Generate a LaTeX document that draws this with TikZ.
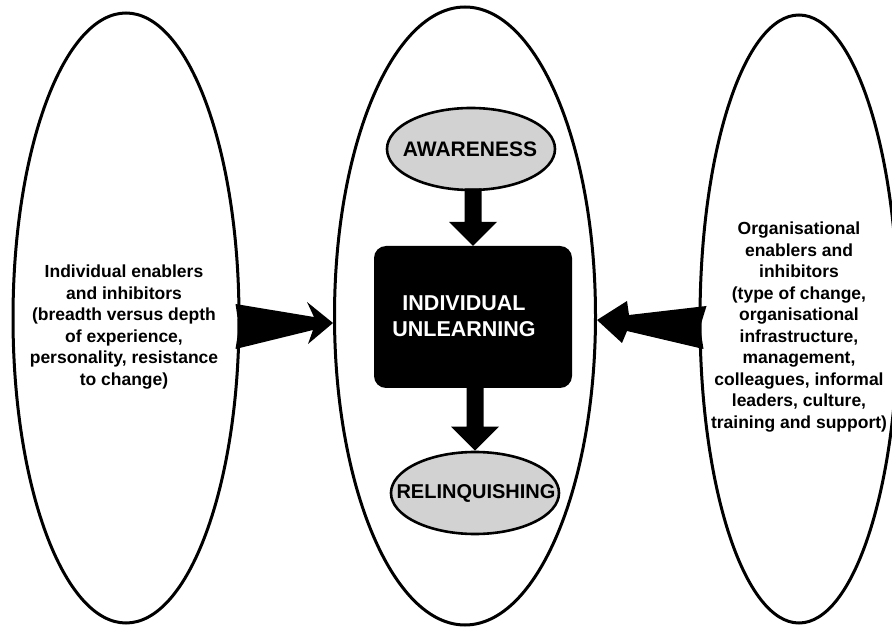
\documentclass[tikz,border=0pt]{standalone}
\usepackage{fontspec}
\setmainfont{Liberation Sans}
\usetikzlibrary{shapes.geometric,calc}
\definecolor{stagegray}{RGB}{210,210,210}
% solid downward block arrow from the bottom of one node to the top of another
\newcommand\blockdown[2]{%
  \coordinate (bdt) at (#2 |- #1);
  \fill ($(bdt)+(-8.5,-3)$) -- ($(#2)+(-8.5,-24)$) -- ($(#2)+(-24,-24)$) -- (#2)
     -- ($(#2)+(24,-24)$) -- ($(#2)+(8.5,-24)$) -- ($(bdt)+(8.5,-3)$) -- cycle;}
\begin{document}
\begin{tikzpicture}[x=1pt,y=-1pt,
  oval/.style={ellipse,draw=black,line width=3pt,inner sep=0pt},
  stage/.style={ellipse,draw=black,line width=2.6pt,fill=stagegray,inner sep=0pt,
    minimum width=168pt,minimum height=82pt},
  stagetext/.style={font=\fontsize{21}{24}\selectfont\bfseries},
  sidetext/.style={align=center,font=\fontsize{17.5}{21.5}\selectfont\bfseries},
  corebox/.style={rectangle,rounded corners=12pt,fill=black,minimum width=198pt,
    minimum height=142pt,inner sep=0pt}]
\useasboundingbox (0,0) rectangle (892,628);
\clip (0,0) rectangle (892,628);
\fill[white] (0,0) rectangle (892,628);

% three large ovals
\node[oval,minimum width=226pt,minimum height=610pt] (left) at (126,318) {};
\node[oval,minimum width=261pt,minimum height=618pt] (mid) at (465,316) {};
\node[oval,minimum width=198pt,minimum height=608pt] (right) at (799,319) {};

% central process
\node[stage] (aware) at (471,149) {};
\node[stagetext] (awaretext) at (470,149) {AWARENESS};
\node[corebox] (core) at (473,317) {};
\node[align=center,text=white,font=\fontsize{21.5}{25.5}\selectfont\bfseries]
  (coretext) at (464,316) {INDIVIDUAL\\UNLEARNING};
\node[stage] (relin) at (475,493) {};
\node[stagetext,font=\fontsize{20}{24}\selectfont\bfseries] (relintext) at (476,493) {RELINQUISHING};

\blockdown{aware.south}{core.north}
\blockdown{core.south}{relin.north}

% side texts
\node[sidetext] (lefttext) at (124,327) {Individual enablers\\and inhibitors\\(breadth versus depth\\of experience,\\personality, resistance\\to change)};
\node[sidetext] (righttext) at (799,327) {Organisational\\enablers and\\inhibitors\\(type of change,\\organisational\\infrastructure,\\management,\\colleagues, informal\\leaders, culture,\\training and support)};

% tapered arrows from the side ovals into the centre
\coordinate (ltail) at (left.east |- 0,327);
\coordinate (ltip) at (mid.west |- 0,323);
\fill ($(ltail)+(-5,-23)$) -- ($(ltip)+(-19,-6)$) -- ($(ltip)+(-26,-21)$) -- (ltip)
  -- ($(ltip)+(-25,21)$) -- ($(ltip)+(-20,7)$) -- ($(ltail)+(-5,22)$)
  -- ($(ltail)+(-1.5,0)$) -- cycle;
\coordinate (rtail) at (right.west |- 0,327);
\coordinate (rtip) at (mid.east |- 0,320);
\fill ($(rtail)+(8,-21)$) -- ($(rtip)+(32,-5)$) -- ($(rtip)+(30,-19)$) -- (rtip)
  -- ($(rtip)+(25,23)$) -- ($(rtip)+(30,11)$) -- ($(rtail)+(5,22)$)
  -- ($(rtail)+(1.5,0)$) -- cycle;
\end{tikzpicture}
\end{document}
